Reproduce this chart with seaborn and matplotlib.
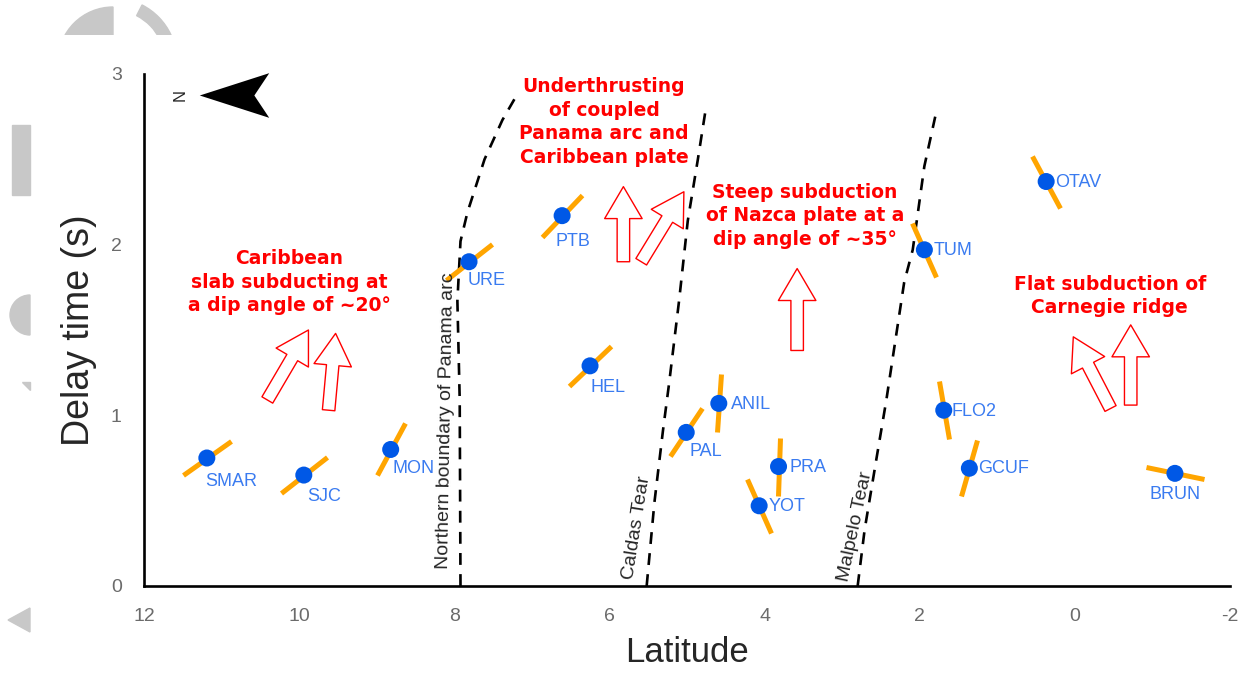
import numpy as np
import pandas as pd
import matplotlib
matplotlib.use("Agg")
import matplotlib.pyplot as plt
import seaborn as sns
from matplotlib.markers import MarkerStyle
from matplotlib.transforms import Affine2D
from matplotlib.path import Path
from matplotlib.patches import Wedge, Polygon, Rectangle

# station data
stations = ["SMAR", "SJC", "MON", "URE", "PTB", "HEL", "PAL", "ANIL", "PRA",
            "YOT", "TUM", "FLO2", "GCUF", "OTAV", "BRUN"]
latitude = [11.19, 9.94, 8.82, 7.81, 6.61, 6.25, 5.01, 4.59, 3.82,
            4.07, 1.94, 1.69, 1.36, 0.37, -1.29]
delay = [0.75, 0.65, 0.80, 1.90, 2.17, 1.29, 0.90, 1.07, 0.70,
         0.47, 1.97, 1.03, 0.69, 2.37, 0.66]
# orientation of the fast direction bar as drawn on the page (deg, ccw)
fast_angle = [36, 38, 62, 39, 46, 43, 56, 86, 88,
              114, 114, 99, 75, 119, 168]

# boundaries (dashed lines)
panama_lat = [7.92, 7.93, 7.96, 7.92, 7.83, 7.61, 7.38, 7.19]
panama_dt = [0.0, 1.09, 1.67, 2.02, 2.19, 2.50, 2.73, 2.88]
caldas_lat = [5.52, 5.42, 5.31, 5.23, 5.10, 4.99, 4.86, 4.76]
caldas_dt = [0.0, 0.49, 0.91, 1.19, 1.68, 2.14, 2.50, 2.79]
malpelo_lat = [2.80, 2.71, 2.56, 2.43, 2.30, 2.20, 2.09, 1.94, 1.80]
malpelo_dt = [0.0, 0.33, 0.74, 1.09, 1.48, 1.78, 1.97, 2.46, 2.75]

region_text = ["Caribbean\nslab subducting at\na dip angle of ~20\u00b0",
               "Underthrusting\nof coupled\nPanama arc and\nCaribbean plate",
               "Steep subduction\nof Nazca plate at a\ndip angle of ~35\u00b0",
               "Flat subduction of\nCarnegie ridge"]
region_xy = [(10.13, 1.78), (6.07, 2.72), (3.48, 2.17), (-0.45, 1.70)]

# hollow arrows: (tail, head)
arrow_tail = [(10.41, 1.09), (9.62, 1.03), (5.82, 1.90), (5.59, 1.90),
              (3.58, 1.38), (-0.46, 1.04), (-0.72, 1.06)]
arrow_head = [(9.88, 1.50), (9.53, 1.48), (5.82, 2.34), (5.04, 2.31),
              (3.58, 1.86), (0.02, 1.46), (-0.72, 1.53)]

x_ticks = [12, 10, 8, 6, 4, 2, 0, -2]
y_ticks = [0, 1, 2, 3]

label_offsets = {"SMAR": (-2, -23), "SJC": (3, -21), "MON": (2, -19),
                 "URE": (-1, -19), "PTB": (-7, -26), "HEL": (0, -22),
                 "PAL": (3, -19), "ANIL": (12, -1), "PRA": (11, -1),
                 "YOT": (9, -1), "TUM": (9, -1), "FLO2": (8, -1),
                 "GCUF": (9, 0), "OTAV": (9, -1), "BRUN": (0, -21)}

df = pd.DataFrame({"station": stations, "lat": latitude, "dt": delay,
                   "ang": fast_angle})

sns.set_style("white")
plt.rcParams["font.family"] = ["Liberation Sans", "DejaVu Sans"]

fig = plt.figure(figsize=(12.4, 6.75), dpi=100)

# faint grey shapes on the left edge of the page
bg = fig.add_axes([0, 0, 1, 1], zorder=-5)
bg.set_xlim(0, 1240)
bg.set_ylim(675, 0)
bg.axis("off")
grey = "#c8c8c8"
clip = Rectangle((0, 0), 1240, 35, transform=bg.transData)
for p in [Wedge((113, 62), 55, 180, 270, color=grey),
          Wedge((113, 62), 64, 297, 335, width=12, color=grey)]:
    bg.add_patch(p)
    p.set_clip_path(clip)
bg.add_patch(Rectangle((12, 125), 18, 70, color=grey))
bg.add_patch(Wedge((30, 315), 20, 90, 270, color=grey))
bg.add_patch(Polygon([(22, 382), (30, 382), (30, 390)], color=grey))
bg.add_patch(Polygon([(8, 620), (30, 608), (30, 632)], color=grey))

ax = fig.add_axes([144 / 1240, 89 / 675, 1086 / 1240, 512 / 675])
ax.patch.set_alpha(0)

# dashed boundaries
for xs, ys in [(panama_lat, panama_dt), (caldas_lat, caldas_dt),
               (malpelo_lat, malpelo_dt)]:
    sns.lineplot(x=xs, y=ys, sort=False, estimator=None, color="black",
                 lw=1.9, linestyle=(0, (4.5, 3.5)), ax=ax, zorder=2)

# fast direction bars
for _, r in df.iterrows():
    m = MarkerStyle("_", transform=Affine2D().rotate_deg(r["ang"]))
    ax.plot(r["lat"], r["dt"], marker=m, markersize=42, markeredgewidth=3.6,
            color="#ffa500", zorder=3, solid_capstyle="butt")

sns.scatterplot(data=df, x="lat", y="dt", color="#0058e6", s=150,
                edgecolor="none", zorder=4, ax=ax)

for _, r in df.iterrows():
    ha = "center" if r["station"] == "BRUN" else "left"
    dx, dy = label_offsets[r["station"]]
    ax.annotate(r["station"], (r["lat"], r["dt"]), xytext=(dx, dy),
                textcoords="offset pixels", ha=ha, va="center",
                fontsize=13, color="#3a7bf0", zorder=5)

for txt, (x, y) in zip(region_text, region_xy):
    ax.text(x, y, txt, ha="center", va="center", color="red",
            fontsize=13.5, fontweight="bold", linespacing=1.3,
            family=["DejaVu Sans"])

for t, h in zip(arrow_tail, arrow_head):
    ax.annotate("", xy=h, xytext=t,
                arrowprops=dict(arrowstyle="simple,head_length=1.15,head_width=1.35,tail_width=0.45",
                                fc="white", ec="red", lw=1.0,
                                mutation_scale=20, shrinkA=0, shrinkB=0))

# boundary names
ax.text(8.11, 0.97, "Northern boundary of Panama arc", rotation=89,
        ha="center", va="center", rotation_mode="anchor", fontsize=14)
ax.text(5.65, 0.34, "Caldas Tear", rotation=81, ha="center", va="center",
        rotation_mode="anchor", fontsize=14)
ax.text(2.83, 0.35, "Malpelo Tear", rotation=78, ha="center", va="center",
        rotation_mode="anchor", fontsize=14)

# north arrow
north = Path([(-35, 0), (35, 22.5), (20, 0), (35, -22.5), (-35, 0)],
             [Path.MOVETO, Path.LINETO, Path.LINETO, Path.LINETO, Path.CLOSEPOLY])
ax.plot(10.84, 2.877, marker=north, markersize=50, color="black",
        markeredgewidth=0, clip_on=False)
ax.text(11.54, 2.877, "N", rotation=90, ha="center", va="center", fontsize=12)

ax.set_xlim(12, -2)
ax.set_ylim(0, 3)
ax.set_xticks(x_ticks)
ax.set_yticks(y_ticks)
ax.set_xticklabels([str(v) for v in x_ticks])
sns.despine(ax=ax)
for s in ["left", "bottom"]:
    ax.spines[s].set_linewidth(1.9)
    ax.spines[s].set_color("black")
ax.tick_params(axis="both", direction="inout", length=12, width=1.9,
               colors="black", labelcolor="#6b6b6b", labelsize=14, pad=10)
ax.set_xlabel("Latitude", fontsize=25, labelpad=8)
ax.set_ylabel("Delay time (s)", fontsize=27, labelpad=10)

fig.savefig("out.png", dpi=100)
